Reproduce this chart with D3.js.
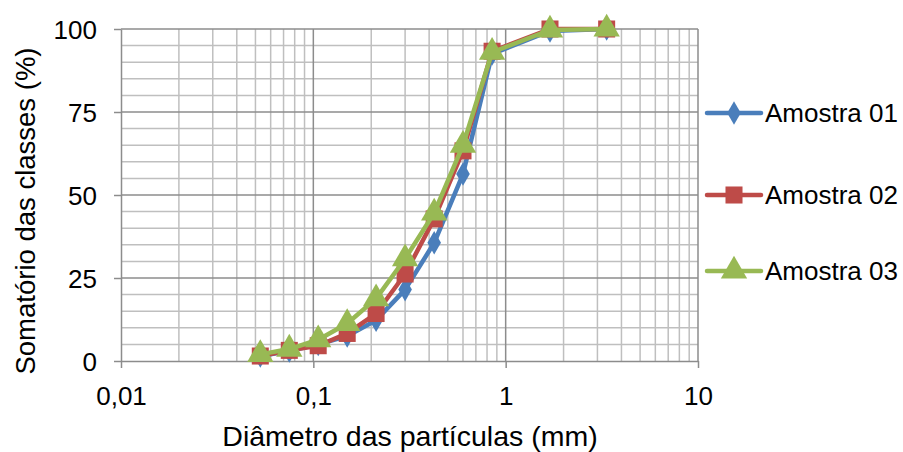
<!DOCTYPE html>
<html><head><meta charset="utf-8">
<script src="https://cdn.jsdelivr.net/npm/d3@7"></script>
<style>body{margin:0;background:#fff}svg{display:block}text{font-family:"Liberation Sans",Arial,sans-serif;fill:#000}</style>
</head><body>
<script>
const diameters = [0.053, 0.075, 0.106, 0.15, 0.212, 0.3, 0.425, 0.6, 0.85, 1.7, 3.35];
const amostra01 = [1.5, 3, 5, 7.5, 12.3, 21.5, 35.6, 56.3, 92.5, 99.4, 100];
const amostra02 = [1.5, 3.2, 4.6, 8.3, 14.3, 26.2, 42.8, 63.3, 93.3, 100, 100];
const amostra03 = [2, 3.6, 6.4, 11.3, 18.8, 30.8, 44.6, 65, 93, 99.7, 100];
const seriesNames = ["Amostra 01", "Amostra 02", "Amostra 03"];
const xTicks = [0.01, 0.1, 1, 10];
const xTickLabels = ["0,01", "0,1", "1", "10"];
const yTicks = [0, 25, 50, 75, 100];

const W = 903, H = 452;
const svg = d3.select("body").append("svg").attr("width", W).attr("height", H);
const x = d3.scaleLog().domain([0.01, 10]).range([121, 698]);
const y = d3.scaleLinear().domain([0, 100]).range([361, 29]);

// minor grid
const g = svg.append("g");
const minorX = [];
[0.01, 0.1, 1].forEach(d => { for (let k = 2; k <= 9; k++) minorX.push(d * k); });
g.selectAll(".mx").data(minorX).join("line")
  .attr("x1", d => x(d)).attr("x2", d => x(d)).attr("y1", y(0)).attr("y2", y(100))
  .attr("stroke", "#bfbfbf").attr("stroke-width", 1.5);
const minorY = d3.range(5, 100, 5).filter(v => v % 25 !== 0);
g.selectAll(".my").data(minorY).join("line")
  .attr("x1", x(0.01)).attr("x2", x(10)).attr("y1", d => y(d)).attr("y2", d => y(d))
  .attr("stroke", "#bfbfbf").attr("stroke-width", 1.5);
// major grid
g.selectAll(".Mx").data(xTicks.slice(1)).join("line")
  .attr("x1", d => x(d)).attr("x2", d => x(d)).attr("y1", y(0)).attr("y2", y(100))
  .attr("stroke", "#8c8c8c").attr("stroke-width", 1.5);
g.selectAll(".My").data(yTicks.slice(1)).join("line")
  .attr("x1", x(0.01)).attr("x2", x(10)).attr("y1", d => y(d)).attr("y2", d => y(d))
  .attr("stroke", "#8c8c8c").attr("stroke-width", 1.5);

// axes
const xAxis = svg.append("g").attr("transform", `translate(0,${y(0)})`)
  .call(d3.axisBottom(x).tickValues(xTicks).tickFormat((d, i) => xTickLabels[i]).tickSize(7).tickSizeOuter(0));
const yAxis = svg.append("g").attr("transform", `translate(${x(0.01)},0)`)
  .call(d3.axisLeft(y).tickValues(yTicks).tickSize(7).tickSizeOuter(0));
[xAxis, yAxis].forEach(a => {
  a.select(".domain").attr("stroke", "#8c8c8c").attr("stroke-width", 1.5);
  a.selectAll(".tick line").attr("stroke", "#8c8c8c").attr("stroke-width", 1.5);
  a.selectAll("text").style("font-size", "26px").attr("fill", "#000");
});
xAxis.selectAll("text").attr("dy", "0").attr("y", 44);
yAxis.selectAll("text").attr("x", -24).attr("dy", "0.36em");

// titles
svg.append("text").attr("x", 410).attr("y", 446).attr("text-anchor", "middle")
  .style("font-size", "28.5px").text("Diâmetro das partículas (mm)");
svg.append("text").attr("transform", "translate(35,211) rotate(-90)").attr("text-anchor", "middle")
  .style("font-size", "27.5px").text("Somatório das classes (%)");

const colors = ["#4a7ebb", "#be4b48", "#98b954"];
const data = [amostra01, amostra02, amostra03];
const symbols = [d3.symbolDiamond, d3.symbolSquare, d3.symbolTriangle];
const sizes = [160, 290, 300];
const line = d3.line().x(d => x(d[0])).y(d => y(d[1]));

data.forEach((vals, i) => {
  const pts = diameters.map((d, j) => [d, vals[j]]);
  svg.append("path").datum(pts).attr("d", line).attr("fill", "none")
    .attr("stroke", colors[i]).attr("stroke-width", 4.5).attr("stroke-linejoin", "round");
  svg.append("g").selectAll("path").data(pts).join("path")
    .attr("transform", d => `translate(${x(d[0])},${y(d[1])})`)
    .attr("d", d3.symbol().type(symbols[i]).size(sizes[i])).attr("fill", colors[i]);
});

// legend
const legY = [113, 195, 271];
seriesNames.forEach((n, i) => {
  const lg = svg.append("g");
  lg.append("line").attr("x1", 707).attr("x2", 761).attr("y1", legY[i]).attr("y2", legY[i])
    .attr("stroke", colors[i]).attr("stroke-width", 4.5).attr("stroke-linecap", "round");
  lg.append("path").attr("transform", `translate(734,${legY[i]})`)
    .attr("d", d3.symbol().type(symbols[i]).size(sizes[i])).attr("fill", colors[i]);
  lg.append("text").attr("x", 765).attr("y", legY[i]).attr("dy", "0.36em")
    .style("font-size", "26px").text(n);
});
</script>
</body></html>
